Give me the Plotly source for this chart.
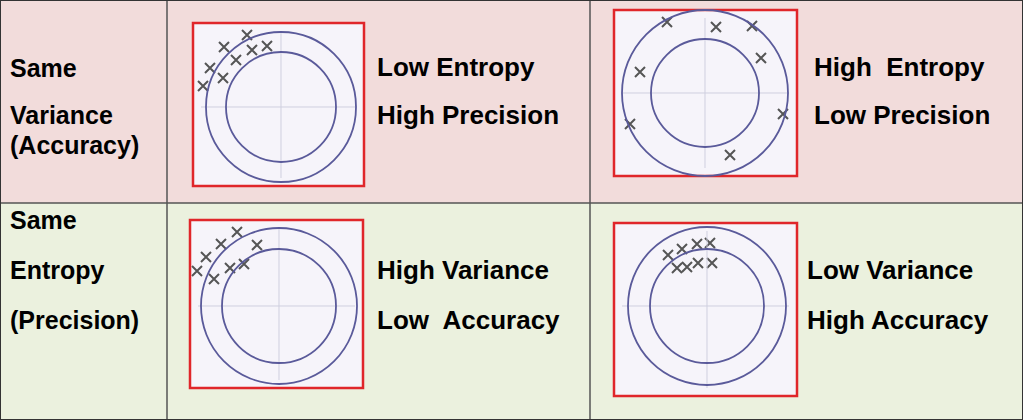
import plotly.graph_objects as go

# Panel boxes (x0, y0, x1, y1) in pixel space of the figure
panel_names = ["A", "B", "C", "D"]
boxes = {"A": (193, 23, 364, 186), "B": (614, 10, 797, 176),
         "C": (190, 220, 363, 388), "D": (614, 223, 797, 396)}
# circle centres and radii (cx, cy, r_outer, r_inner)
circles = {"A": (281, 107, 75, 55), "B": (705, 93, 83, 54),
           "C": (279, 306, 78, 57), "D": (707, 306, 79, 57)}

# X marks
marks_x = {
    "A": [203, 210, 224, 247, 223, 236, 252, 267],
    "B": [667, 716, 752, 761, 640, 630, 783, 730],
    "C": [197, 206, 221, 237, 214, 230, 244, 257],
    "D": [668, 682, 697, 710, 677, 687, 698, 712],
}
marks_y = {
    "A": [86, 68, 47, 35, 78, 60, 50, 46],
    "B": [22, 27, 26, 58, 72, 124, 114, 155],
    "C": [271, 257, 244, 232, 279, 268, 264, 245],
    "D": [255, 249, 244, 243, 268, 267, 263, 263],
}

row_labels = [["Same", "Variance", "(Accuracy)"], ["Same", "Entropy", "(Precision)"]]
row_label_y = [[68, 115, 145], [220, 270, 320]]
cell_labels = [("Low Entropy", "High Precision", 375, 67, 115),
               ("High  Entropy", "Low Precision", 812, 67, 115),
               ("High Variance", "Low  Accuracy", 375, 270, 320),
               ("Low Variance", "High Accuracy", 805, 270, 320)]

fig = go.Figure()
shapes = []
# row backgrounds
shapes.append(dict(type="rect", x0=0, y0=0, x1=1023, y1=203, fillcolor="#f2dcdb", line_width=0, layer="below"))
shapes.append(dict(type="rect", x0=0, y0=203, x1=1023, y1=420, fillcolor="#ebf1de", line_width=0, layer="below"))
for p in panel_names:
    x0, y0, x1, y1 = boxes[p]
    shapes.append(dict(type="rect", x0=x0, y0=y0, x1=x1, y1=y1, fillcolor="#f6f4fa",
                       line=dict(color="#e0262a", width=2.5), layer="below"))
    cx, cy, ro, ri = circles[p]
    shapes.append(dict(type="line", x0=x0 + 8, x1=x1 - 8, y0=cy, y1=cy, line=dict(color="#cfcfdf", width=1)))
    shapes.append(dict(type="line", x0=cx, x1=cx, y0=y0 + 8, y1=y1 - 8, line=dict(color="#cfcfdf", width=1)))
    for r in (ro, ri):
        shapes.append(dict(type="circle", x0=cx - r, x1=cx + r, y0=cy - r, y1=cy + r,
                           line=dict(color="#5a5a9a", width=1.8)))
    fig.add_trace(go.Scatter(x=marks_x[p], y=marks_y[p], mode="markers", hoverinfo="skip",
                             marker=dict(symbol="x-thin", size=10, line=dict(color="#555555", width=2))))
# grid lines
for x in (167, 590):
    shapes.append(dict(type="line", x0=x, x1=x, y0=0, y1=420, line=dict(color="#555555", width=1.5)))
shapes.append(dict(type="line", x0=0, x1=1023, y0=203, y1=203, line=dict(color="#555555", width=1.5)))
shapes.append(dict(type="rect", x0=0, x1=1023, y0=0, y1=420, line=dict(color="#333333", width=2)))

annotations = []
for labels, ys in zip(row_labels, row_label_y):
    for t, y in zip(labels, ys):
        annotations.append(dict(x=8, y=y, text="<b>%s</b>" % t, showarrow=False, xanchor="left",
                                font=dict(family="Liberation Sans, Arial", size=25, color="black")))
for t1, t2, x, y1, y2 in cell_labels:
    for t, y in ((t1, y1), (t2, y2)):
        annotations.append(dict(x=x, y=y, text="<b>%s</b>" % t, showarrow=False, xanchor="left",
                                font=dict(family="Liberation Sans, Arial", size=26, color="black")))

fig.update_layout(width=1023, height=420, margin=dict(l=0, r=0, t=0, b=0), showlegend=False,
                  shapes=shapes, annotations=annotations, plot_bgcolor="white", paper_bgcolor="white",
                  xaxis=dict(range=[0, 1023], visible=False, fixedrange=True),
                  yaxis=dict(range=[420, 0], visible=False, fixedrange=True))
fig.write_html("out.html", config={"displayModeBar": False},
               post_script="document.body.style.margin='0';")
